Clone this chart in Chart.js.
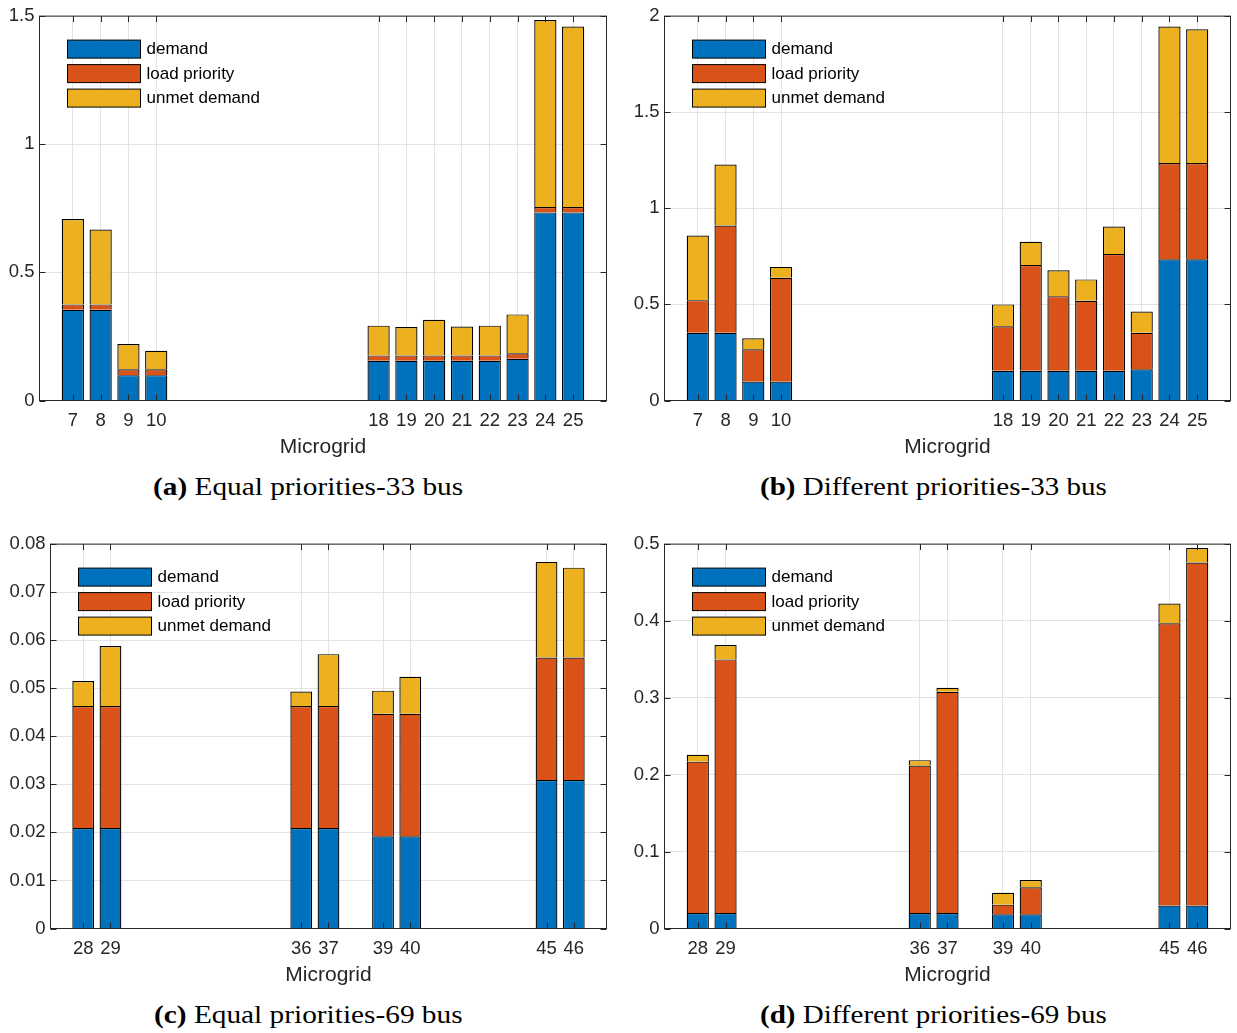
<!DOCTYPE html>
<html><head><meta charset="utf-8">
<script src="https://cdn.jsdelivr.net/npm/chart.js@4.4.1/dist/chart.umd.min.js"></script>
<style>
html,body{margin:0;padding:0;background:#fff;}
body{width:1237px;height:1033px;position:relative;overflow:hidden;}
canvas{position:absolute;}
.cap{position:absolute;font-family:"Liberation Serif","Times New Roman",serif;font-size:26px;line-height:30px;color:#000;white-space:nowrap;transform-origin:0 0;}
.cap b{font-weight:bold;}
</style></head><body>
<canvas id="ca" width="620" height="470" style="left:0px;top:0px"></canvas>
<canvas id="cb" width="617" height="470" style="left:620px;top:0px"></canvas>
<canvas id="cc" width="620" height="470" style="left:0px;top:528px"></canvas>
<canvas id="cd" width="617" height="470" style="left:620px;top:528px"></canvas>
<div class="cap" id="capa"></div>
<div class="cap" id="capb"></div>
<div class="cap" id="capc"></div>
<div class="cap" id="capd"></div>
<script>
// ---- data ----
const seriesNames = ['demand', 'load priority', 'unmet demand'];
const xTitle = 'Microgrid';

const mg33 = [7, 8, 9, 10, 18, 19, 20, 21, 22, 23, 24, 25];
const demandA   = [0.354, 0.354, 0.099, 0.099, 0.155, 0.155, 0.155, 0.155, 0.155, 0.163, 0.734, 0.734];
const priorityA = [0.021, 0.021, 0.023, 0.023, 0.021, 0.021, 0.021, 0.021, 0.021, 0.021, 0.021, 0.021];
const unmetA    = [0.333, 0.292, 0.098, 0.072, 0.116, 0.111, 0.139, 0.113, 0.116, 0.152, 0.730, 0.704];

const demandB   = [0.352, 0.352, 0.098, 0.098, 0.155, 0.155, 0.155, 0.155, 0.155, 0.162, 0.735, 0.735];
const priorityB = [0.170, 0.558, 0.168, 0.541, 0.231, 0.550, 0.388, 0.364, 0.607, 0.190, 0.501, 0.501];
const unmetB    = [0.336, 0.318, 0.058, 0.056, 0.114, 0.121, 0.135, 0.111, 0.143, 0.111, 0.710, 0.695];

const mg69 = [28, 29, 36, 37, 39, 40, 45, 46];
const demandC   = [0.0209, 0.0209, 0.0209, 0.0209, 0.0192, 0.0192, 0.0309, 0.0309];
const priorityC = [0.0254, 0.0254, 0.0254, 0.0254, 0.0255, 0.0255, 0.0255, 0.0255];
const unmetC    = [0.0052, 0.0125, 0.0030, 0.0108, 0.0048, 0.0077, 0.0199, 0.0187];

const demandD   = [0.0202, 0.0202, 0.0202, 0.0202, 0.0185, 0.0185, 0.0300, 0.0300];
const priorityD = [0.1968, 0.3298, 0.1918, 0.2878, 0.0125, 0.0352, 0.3670, 0.4460];
const unmetD    = [0.0090, 0.0186, 0.0070, 0.0050, 0.0154, 0.0094, 0.0257, 0.0190];

const yMaxA = 1.5, yStepA = 0.5;
const yMaxB = 2, yStepB = 0.5;
const yMaxC = 0.08, yStepC = 0.01;
const yMaxD = 0.5, yStepD = 0.1;

const captionTags = ['(a)', '(b)', '(c)', '(d)'];
const captionTexts = ['Equal priorities-33 bus', 'Different priorities-33 bus', 'Equal priorities-69 bus', 'Different priorities-69 bus'];

// ---- styling ----
const colors = ['#0072BD', '#D95319', '#EDB120'];
const axisColor = '#262626';
const gridColor = '#e3e3e3';
const sansFont = '"Liberation Sans", Arial, Helvetica, sans-serif';

const frameAndLegend = {
  id: 'frameAndLegend',
  afterDatasetsDraw(chart) {
    const {ctx, chartArea: a, scales: {x, y}} = chart;
    ctx.save();
    ctx.strokeStyle = axisColor;
    ctx.lineWidth = 1;
    const tl = 6;
    ctx.beginPath();
    x.ticks.forEach(t => {
      const px = Math.round(x.getPixelForValue(t.value)) + 0.5;
      ctx.moveTo(px, a.bottom); ctx.lineTo(px, a.bottom - tl);
      ctx.moveTo(px, a.top); ctx.lineTo(px, a.top + tl);
    });
    y.ticks.forEach(t => {
      const py = Math.round(y.getPixelForValue(t.value)) + 0.5;
      ctx.moveTo(a.left, py); ctx.lineTo(a.left + tl, py);
      ctx.moveTo(a.right, py); ctx.lineTo(a.right - tl, py);
    });
    ctx.stroke();
    ctx.strokeRect(a.left, a.top, a.right - a.left, a.bottom - a.top);
    // legend
    ctx.font = '17px ' + sansFont;
    ctx.textBaseline = 'middle';
    ctx.textAlign = 'left';
    chart.data.datasets.forEach((ds, i) => {
      const x0 = a.left + 28;
      const y0 = a.top + 24 + i * 24.5;
      ctx.fillStyle = ds.backgroundColor;
      ctx.fillRect(x0, y0, 73, 18);
      ctx.strokeStyle = '#000';
      ctx.strokeRect(x0, y0, 73, 18);
      ctx.fillStyle = '#000';
      ctx.fillText(ds.label, x0 + 79, y0 + 9.5);
    });
    ctx.restore();
  }
};

function makeChart(id, w, h, area, xs, xMin, xMax, series, yMax, yStep) {
  const datasets = series.map((vals, k) => ({
    label: seriesNames[k],
    data: xs.map((xv, i) => ({x: xv, y: vals[i]})),
    backgroundColor: colors[k],
    borderColor: '#000',
    borderWidth: {top: 1.2, left: 1.3, right: 1.3, bottom: 0},
    borderSkipped: false,
    barPercentage: 0.8,
    categoryPercentage: 1.0
  }));
  return new Chart(document.getElementById(id), {
    type: 'bar',
    data: {datasets},
    plugins: [frameAndLegend],
    options: {
      responsive: false,
      animation: false,
      devicePixelRatio: 1,
      layout: {padding: {top: area.top, right: w - area.right, left: 0, bottom: 0}},
      plugins: {legend: {display: false}, tooltip: {enabled: false}},
      scales: {
        x: {
          type: 'linear', min: xMin, max: xMax, stacked: true, offset: false,
          afterBuildTicks: s => { s.ticks = xs.map(v => ({value: v})); },
          afterFit: s => { s.height = h - area.bottom; },
          grid: {color: gridColor, drawTicks: false, lineWidth: 1, offset: false},
          border: {display: false},
          ticks: {autoSkip: false, maxRotation: 0, padding: 9, color: axisColor,
                  font: {family: sansFont, size: 18.5}, callback: v => String(v)},
          title: {display: true, text: xTitle, color: axisColor,
                  font: {family: sansFont, size: 21}, padding: {top: 0, bottom: 10}}
        },
        y: {
          min: 0, max: yMax, stacked: true,
          afterFit: s => { s.width = area.left; },
          grid: {color: gridColor, drawTicks: false, lineWidth: 1},
          border: {display: false},
          ticks: {stepSize: yStep, padding: 5, color: axisColor,
                  font: {family: sansFont, size: 18.5}, callback: v => String(+v.toFixed(4))}
        }
      }
    }
  });
}

makeChart('ca', 620, 470, {left: 39.5, top: 12.5, right: 606.5, bottom: 400.5}, mg33, 5.8, 26.2, [demandA, priorityA, unmetA], yMaxA, yStepA);
makeChart('cb', 617, 470, {left: 44.5, top: 12.5, right: 610.5, bottom: 400.5}, mg33, 5.8, 26.2, [demandB, priorityB, unmetB], yMaxB, yStepB);
makeChart('cc', 620, 470, {left: 50.5, top: 12.5, right: 606.5, bottom: 400.5}, mg69, 26.8, 47.2, [demandC, priorityC, unmetC], yMaxC, yStepC);
makeChart('cd', 617, 470, {left: 44.5, top: 12.5, right: 610.5, bottom: 400.5}, mg69, 26.8, 47.2, [demandD, priorityD, unmetD], yMaxD, yStepD);

// captions
const capLayout = [
  {id: 'capa', cx: 308, w: 310, top: 471.5},
  {id: 'capb', cx: 933.5, w: 347, top: 471.5},
  {id: 'capc', cx: 308.5, w: 309, top: 999.5},
  {id: 'capd', cx: 933.5, w: 347, top: 999.5}
];
capLayout.forEach((c, i) => {
  const el = document.getElementById(c.id);
  el.innerHTML = '';
  const b = document.createElement('b'); b.textContent = captionTags[i];
  el.appendChild(b);
  el.appendChild(document.createTextNode('\u00a0' + captionTexts[i]));
  el.style.top = c.top + 'px';
  const nat = el.offsetWidth;
  const sx = c.w / nat;
  el.style.left = (c.cx - c.w / 2) + 'px';
  el.style.transform = 'scaleX(' + sx + ')';
});
</script>
</body></html>
